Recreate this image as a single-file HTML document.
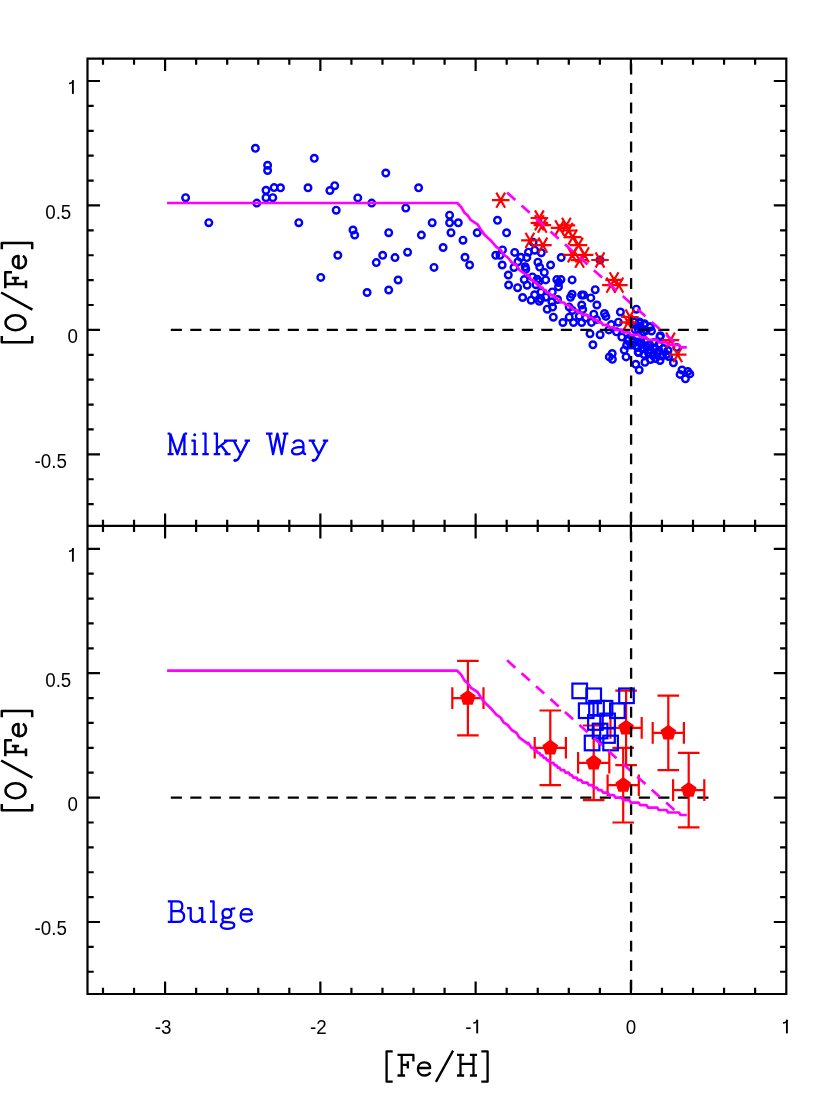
<!DOCTYPE html>
<html><head><meta charset="utf-8"><title>O/Fe vs Fe/H</title>
<style>html,body{margin:0;padding:0;background:#fff}svg{display:block}</style></head>
<body>
<svg width="830" height="1106" viewBox="0 0 830 1106">
<rect width="830" height="1106" fill="#fff"/>
<g fill="none" stroke="#0000ff" stroke-width="2.4">
<circle cx="185.6" cy="197.7" r="3.3"/>
<circle cx="208.8" cy="222.7" r="3.3"/>
<circle cx="255.4" cy="148.3" r="3.3"/>
<circle cx="267.6" cy="165.3" r="3.3"/>
<circle cx="267.6" cy="170.5" r="3.3"/>
<circle cx="266.0" cy="190.3" r="3.3"/>
<circle cx="274.1" cy="187.6" r="3.3"/>
<circle cx="280.5" cy="187.8" r="3.3"/>
<circle cx="266.0" cy="197.7" r="3.3"/>
<circle cx="272.8" cy="197.7" r="3.3"/>
<circle cx="256.8" cy="203.1" r="3.3"/>
<circle cx="308.0" cy="187.8" r="3.3"/>
<circle cx="314.3" cy="158.3" r="3.3"/>
<circle cx="298.8" cy="222.7" r="3.3"/>
<circle cx="329.9" cy="190.5" r="3.3"/>
<circle cx="334.7" cy="185.7" r="3.3"/>
<circle cx="357.8" cy="197.9" r="3.3"/>
<circle cx="371.7" cy="203.1" r="3.3"/>
<circle cx="336.2" cy="210.2" r="3.3"/>
<circle cx="353.0" cy="230.0" r="3.3"/>
<circle cx="354.7" cy="235.1" r="3.3"/>
<circle cx="385.8" cy="173.0" r="3.3"/>
<circle cx="418.6" cy="187.8" r="3.3"/>
<circle cx="405.8" cy="208.1" r="3.3"/>
<circle cx="388.7" cy="232.7" r="3.3"/>
<circle cx="432.2" cy="222.7" r="3.3"/>
<circle cx="421.4" cy="235.1" r="3.3"/>
<circle cx="449.6" cy="215.2" r="3.3"/>
<circle cx="449.6" cy="222.8" r="3.3"/>
<circle cx="458.3" cy="222.8" r="3.3"/>
<circle cx="451.0" cy="232.7" r="3.3"/>
<circle cx="443.1" cy="247.5" r="3.3"/>
<circle cx="407.6" cy="252.2" r="3.3"/>
<circle cx="463.0" cy="240.2" r="3.3"/>
<circle cx="337.8" cy="255.3" r="3.3"/>
<circle cx="320.8" cy="277.4" r="3.3"/>
<circle cx="367.1" cy="292.5" r="3.3"/>
<circle cx="388.7" cy="290.0" r="3.3"/>
<circle cx="398.1" cy="280.0" r="3.3"/>
<circle cx="376.3" cy="262.6" r="3.3"/>
<circle cx="382.7" cy="255.3" r="3.3"/>
<circle cx="395.0" cy="257.6" r="3.3"/>
<circle cx="434.0" cy="267.4" r="3.3"/>
<circle cx="477.2" cy="232.8" r="3.3"/>
<circle cx="465.0" cy="257.3" r="3.3"/>
<circle cx="469.6" cy="265.0" r="3.3"/>
<circle cx="497.5" cy="220.3" r="3.3"/>
<circle cx="506.6" cy="232.8" r="3.3"/>
<circle cx="502.5" cy="249.9" r="3.3"/>
<circle cx="495.7" cy="255.3" r="3.3"/>
<circle cx="500.0" cy="255.3" r="3.3"/>
<circle cx="502.2" cy="265.0" r="3.3"/>
<circle cx="514.7" cy="252.4" r="3.3"/>
<circle cx="520.8" cy="257.3" r="3.3"/>
<circle cx="518.0" cy="261.7" r="3.3"/>
<circle cx="526.8" cy="257.6" r="3.3"/>
<circle cx="528.4" cy="252.2" r="3.3"/>
<circle cx="534.7" cy="250.2" r="3.3"/>
<circle cx="533.1" cy="242.2" r="3.3"/>
<circle cx="541.3" cy="252.7" r="3.3"/>
<circle cx="537.9" cy="262.2" r="3.3"/>
<circle cx="525.2" cy="266.8" r="3.3"/>
<circle cx="525.8" cy="269.3" r="3.3"/>
<circle cx="514.0" cy="267.5" r="3.3"/>
<circle cx="550.6" cy="265.0" r="3.3"/>
<circle cx="561.2" cy="257.5" r="3.3"/>
<circle cx="539.7" cy="267.1" r="3.3"/>
<circle cx="544.3" cy="272.4" r="3.3"/>
<circle cx="508.3" cy="275.0" r="3.3"/>
<circle cx="508.6" cy="285.0" r="3.3"/>
<circle cx="517.6" cy="287.7" r="3.3"/>
<circle cx="524.2" cy="279.6" r="3.3"/>
<circle cx="527.1" cy="285.2" r="3.3"/>
<circle cx="532.4" cy="276.9" r="3.3"/>
<circle cx="537.2" cy="279.3" r="3.3"/>
<circle cx="539.0" cy="281.6" r="3.3"/>
<circle cx="536.0" cy="284.7" r="3.3"/>
<circle cx="545.7" cy="279.9" r="3.3"/>
<circle cx="556.8" cy="279.6" r="3.3"/>
<circle cx="561.0" cy="279.6" r="3.3"/>
<circle cx="558.7" cy="282.5" r="3.3"/>
<circle cx="558.5" cy="286.8" r="3.3"/>
<circle cx="572.1" cy="279.9" r="3.3"/>
<circle cx="522.6" cy="297.5" r="3.3"/>
<circle cx="534.6" cy="294.8" r="3.3"/>
<circle cx="531.1" cy="300.2" r="3.3"/>
<circle cx="541.0" cy="292.1" r="3.3"/>
<circle cx="539.3" cy="301.3" r="3.3"/>
<circle cx="540.7" cy="298.8" r="3.3"/>
<circle cx="545.8" cy="297.2" r="3.3"/>
<circle cx="552.3" cy="291.9" r="3.3"/>
<circle cx="551.9" cy="301.8" r="3.3"/>
<circle cx="557.6" cy="299.5" r="3.3"/>
<circle cx="547.2" cy="309.2" r="3.3"/>
<circle cx="552.6" cy="307.1" r="3.3"/>
<circle cx="553.3" cy="317.2" r="3.3"/>
<circle cx="572.1" cy="294.3" r="3.3"/>
<circle cx="570.5" cy="297.3" r="3.3"/>
<circle cx="581.7" cy="295.0" r="3.3"/>
<circle cx="583.6" cy="295.0" r="3.3"/>
<circle cx="590.8" cy="297.9" r="3.3"/>
<circle cx="595.2" cy="289.7" r="3.3"/>
<circle cx="581.7" cy="305.0" r="3.3"/>
<circle cx="582.7" cy="309.4" r="3.3"/>
<circle cx="569.2" cy="307.1" r="3.3"/>
<circle cx="572.5" cy="310.4" r="3.3"/>
<circle cx="569.2" cy="317.2" r="3.3"/>
<circle cx="562.9" cy="322.5" r="3.3"/>
<circle cx="573.5" cy="322.5" r="3.3"/>
<circle cx="579.3" cy="316.2" r="3.3"/>
<circle cx="581.7" cy="322.5" r="3.3"/>
<circle cx="585.5" cy="318.1" r="3.3"/>
<circle cx="593.8" cy="314.2" r="3.3"/>
<circle cx="596.9" cy="305.0" r="3.3"/>
<circle cx="591.5" cy="322.4" r="3.3"/>
<circle cx="596.5" cy="319.6" r="3.3"/>
<circle cx="604.5" cy="313.5" r="3.3"/>
<circle cx="605.9" cy="316.4" r="3.3"/>
<circle cx="620.4" cy="312.0" r="3.3"/>
<circle cx="636.3" cy="309.2" r="3.3"/>
<circle cx="618.4" cy="322.2" r="3.3"/>
<circle cx="611.2" cy="324.6" r="3.3"/>
<circle cx="608.8" cy="329.9" r="3.3"/>
<circle cx="600.1" cy="334.7" r="3.3"/>
<circle cx="592.9" cy="344.8" r="3.3"/>
<circle cx="590.0" cy="333.7" r="3.3"/>
<circle cx="616.5" cy="331.8" r="3.3"/>
<circle cx="621.8" cy="337.1" r="3.3"/>
<circle cx="627.6" cy="340.5" r="3.3"/>
<circle cx="626.6" cy="345.3" r="3.3"/>
<circle cx="624.2" cy="350.1" r="3.3"/>
<circle cx="626.1" cy="356.9" r="3.3"/>
<circle cx="612.2" cy="353.5" r="3.3"/>
<circle cx="609.3" cy="356.9" r="3.3"/>
<circle cx="638.7" cy="352.5" r="3.3"/>
<circle cx="640.1" cy="342.4" r="3.3"/>
<circle cx="640.1" cy="323.1" r="3.3"/>
<circle cx="644.0" cy="324.6" r="3.3"/>
<circle cx="649.8" cy="327.0" r="3.3"/>
<circle cx="634.3" cy="322.2" r="3.3"/>
<circle cx="635.3" cy="329.9" r="3.3"/>
<circle cx="660.4" cy="335.7" r="3.3"/>
<circle cx="659.9" cy="336.9" r="3.3"/>
<circle cx="676.7" cy="347.4" r="3.3"/>
<circle cx="668.6" cy="356.6" r="3.3"/>
<circle cx="673.4" cy="362.8" r="3.3"/>
<circle cx="644.9" cy="362.3" r="3.3"/>
<circle cx="635.8" cy="364.3" r="3.3"/>
<circle cx="639.2" cy="370.0" r="3.3"/>
<circle cx="638.2" cy="352.2" r="3.3"/>
<circle cx="682.0" cy="370.0" r="3.3"/>
<circle cx="680.1" cy="374.4" r="3.3"/>
<circle cx="687.8" cy="371.5" r="3.3"/>
<circle cx="689.8" cy="373.9" r="3.3"/>
<circle cx="600.0" cy="260.0" r="3.3"/>
<circle cx="639.6" cy="321.9" r="3.3"/>
<circle cx="644.5" cy="323.8" r="3.3"/>
<circle cx="650.2" cy="326.7" r="3.3"/>
<circle cx="632.9" cy="342.1" r="3.3"/>
<circle cx="641.5" cy="343.0" r="3.3"/>
<circle cx="645.5" cy="341.5" r="3.3"/>
<circle cx="649.5" cy="344.5" r="3.3"/>
<circle cx="654.0" cy="342.5" r="3.3"/>
<circle cx="659.0" cy="344.5" r="3.3"/>
<circle cx="638.0" cy="347.5" r="3.3"/>
<circle cx="642.5" cy="349.0" r="3.3"/>
<circle cx="646.5" cy="347.0" r="3.3"/>
<circle cx="650.5" cy="350.0" r="3.3"/>
<circle cx="655.0" cy="348.0" r="3.3"/>
<circle cx="659.0" cy="350.5" r="3.3"/>
<circle cx="663.5" cy="348.5" r="3.3"/>
<circle cx="668.0" cy="350.5" r="3.3"/>
<circle cx="644.0" cy="354.5" r="3.3"/>
<circle cx="648.5" cy="353.0" r="3.3"/>
<circle cx="653.0" cy="355.5" r="3.3"/>
<circle cx="657.5" cy="353.5" r="3.3"/>
<circle cx="662.0" cy="356.0" r="3.3"/>
<circle cx="666.5" cy="354.5" r="3.3"/>
<circle cx="650.5" cy="359.5" r="3.3"/>
<circle cx="655.5" cy="358.5" r="3.3"/>
<circle cx="660.0" cy="360.5" r="3.3"/>
<circle cx="685.4" cy="378.8" r="3.3"/>
<circle cx="612.4" cy="359.3" r="3.3"/>
<circle cx="637.0" cy="325.5" r="3.3"/>
<circle cx="641.5" cy="328.5" r="3.3"/>
<circle cx="646.0" cy="330.5" r="3.3"/>
<circle cx="651.5" cy="331.0" r="3.3"/>
<circle cx="638.5" cy="330.0" r="3.3"/>
<circle cx="643.5" cy="332.0" r="3.3"/>
<circle cx="628.5" cy="338.5" r="3.3"/>
<circle cx="633.0" cy="340.5" r="3.3"/>
<circle cx="637.5" cy="342.0" r="3.3"/>
<circle cx="636.0" cy="346.0" r="3.3"/>
<circle cx="631.0" cy="345.0" r="3.3"/>
</g>
<path fill="none" stroke="#ff0000" stroke-width="2.2" d="M491.90 200.20L509.50 200.20M496.30 192.58L505.10 207.82M505.10 192.58L496.30 207.82M530.60 218.00L548.20 218.00M535.00 210.38L543.80 225.62M543.80 210.38L535.00 225.62M530.60 222.80L548.20 222.80M535.00 215.18L543.80 230.42M543.80 215.18L535.00 230.42M533.50 225.20L551.10 225.20M537.90 217.58L546.70 232.82M546.70 217.58L537.90 232.82M521.10 240.40L538.70 240.40M525.50 232.78L534.30 248.02M534.30 232.78L525.50 248.02M534.10 245.20L551.70 245.20M538.50 237.58L547.30 252.82M547.30 237.58L538.50 252.82M550.80 227.80L568.40 227.80M555.20 220.18L564.00 235.42M564.00 220.18L555.20 235.42M557.60 225.30L575.20 225.30M562.00 217.68L570.80 232.92M570.80 217.68L562.00 232.92M559.60 230.50L577.20 230.50M564.00 222.88L572.80 238.12M572.80 222.88L564.00 238.12M563.90 237.10L581.50 237.10M568.30 229.48L577.10 244.72M577.10 229.48L568.30 244.72M569.70 245.20L587.30 245.20M574.10 237.58L582.90 252.82M582.90 237.58L574.10 252.82M563.50 254.80L581.10 254.80M567.90 247.18L576.70 262.42M576.70 247.18L567.90 262.42M575.80 254.80L593.40 254.80M580.20 247.18L589.00 262.42M589.00 247.18L580.20 262.42M570.80 260.20L588.40 260.20M575.20 252.58L584.00 267.82M584.00 252.58L575.20 267.82M591.20 260.00L608.80 260.00M595.60 252.38L604.40 267.62M604.40 252.38L595.60 267.62M605.30 279.90L622.90 279.90M609.70 272.28L618.50 287.52M618.50 272.28L609.70 287.52M602.10 285.10L619.70 285.10M606.50 277.48L615.30 292.72M615.30 277.48L606.50 292.72M610.10 285.10L627.70 285.10M614.50 277.48L623.30 292.72M623.30 277.48L614.50 292.72M621.10 317.00L638.70 317.00M625.50 309.38L634.30 324.62M634.30 309.38L625.50 324.62M619.10 322.40L636.70 322.40M623.50 314.78L632.30 330.02M632.30 314.78L623.50 330.02M661.70 340.20L679.30 340.20M666.10 332.58L674.90 347.82M674.90 332.58L666.10 347.82M668.90 354.60L686.50 354.60M673.30 346.98L682.10 362.22M682.10 346.98L673.30 362.22"/>
<g fill="none" stroke="#000" stroke-width="2.3" stroke-dasharray="11.1 8.4">
<path d="M170.8 329.8H709"/>
<path d="M170.8 797.6H709"/>
</g>
<path fill="none" stroke="#ff0000" stroke-width="2.2" d="M467.9 660.8V735.4M457.1 660.8H478.7M457.1 735.4H478.7M452.3 698.1H483.5M452.3 687.3V708.9M483.5 687.3V708.9M550.3 710.5V785.1M539.5 710.5H561.1M539.5 785.1H561.1M534.7 747.8H565.9M534.7 737.0V758.6M565.9 737.0V758.6M593.7 725.5V800.1M582.9 725.5H604.5M582.9 800.1H604.5M578.1 762.8H609.3M578.1 752.0V773.6M609.3 752.0V773.6M626.1 690.6V765.2M615.3 690.6H636.9M615.3 765.2H636.9M610.5 727.9H641.7M610.5 717.1V738.7M641.7 717.1V738.7M623.2 747.9V822.5M612.4 747.9H634.0M612.4 822.5H634.0M607.6 785.2H638.8M607.6 774.4V796.0M638.8 774.4V796.0M668.3 695.6V770.2M657.5 695.6H679.1M657.5 770.2H679.1M652.7 732.9H683.9M652.7 722.1V743.7M683.9 722.1V743.7M688.7 752.8V827.4M677.9 752.8H699.5M677.9 827.4H699.5M673.1 790.1H704.3M673.1 779.3V800.9M704.3 779.3V800.9"/>
<polygon fill="#ff0000" points="467.90,689.90 475.70,695.57 472.72,704.73 463.08,704.73 460.10,695.57"/>
<polygon fill="#ff0000" points="550.30,739.60 558.10,745.27 555.12,754.43 545.48,754.43 542.50,745.27"/>
<polygon fill="#ff0000" points="593.70,754.60 601.50,760.27 598.52,769.43 588.88,769.43 585.90,760.27"/>
<polygon fill="#ff0000" points="626.10,719.70 633.90,725.37 630.92,734.53 621.28,734.53 618.30,725.37"/>
<polygon fill="#ff0000" points="623.20,777.00 631.00,782.67 628.02,791.83 618.38,791.83 615.40,782.67"/>
<polygon fill="#ff0000" points="668.30,724.70 676.10,730.37 673.12,739.53 663.48,739.53 660.50,730.37"/>
<polygon fill="#ff0000" points="688.70,781.90 696.50,787.57 693.52,796.73 683.88,796.73 680.90,787.57"/>
<g fill="none" stroke="#0000ff" stroke-width="2.2">
<rect x="572.4" y="683.6" width="14.6" height="14.6"/>
<rect x="586.4" y="688.5" width="14.6" height="14.6"/>
<rect x="619.2" y="688.5" width="14.6" height="14.6"/>
<rect x="578.9" y="703.4" width="14.6" height="14.6"/>
<rect x="589.2" y="700.9" width="14.6" height="14.6"/>
<rect x="597.7" y="700.9" width="14.6" height="14.6"/>
<rect x="610.1" y="703.4" width="14.6" height="14.6"/>
<rect x="600.3" y="713.6" width="14.6" height="14.6"/>
<rect x="588.1" y="715.2" width="14.6" height="14.6"/>
<rect x="592.8" y="723.7" width="14.6" height="14.6"/>
<rect x="600.2" y="728.2" width="14.6" height="14.6"/>
<rect x="584.8" y="735.7" width="14.6" height="14.6"/>
<rect x="603.3" y="735.7" width="14.6" height="14.6"/>
</g>
<polyline fill="none" stroke="#ff00ff" stroke-width="2.7" stroke-linejoin="round" points="167.1,203.0 457.2,203.0 461.1,206.9 464.5,212.7 467.8,215.6 470.7,219.9 477.5,224.3 480.8,229.6 484.2,234.4 490.5,240.2 496.3,246.9 500.6,249.8 503.5,254.6 507.8,257.5 511.7,262.3 516.5,265.2 519.4,270.0 528.1,276.1 528.4,275.2 530.0,277.7 531.5,280.1 533.1,280.1 534.6,282.6 536.2,282.6 537.7,285.1 539.3,285.1 540.8,287.6 542.4,287.6 543.9,290.1 545.5,290.1 547.1,292.6 548.6,292.6 550.2,295.1 551.7,295.1 553.3,295.1 554.8,297.6 556.4,297.6 557.9,300.0 559.5,300.0 561.0,302.5 562.6,302.5 564.1,302.5 565.7,305.0 567.2,305.0 568.8,305.0 570.3,307.5 571.9,307.5 573.5,310.0 575.0,310.0 576.6,310.0 578.1,312.5 579.7,312.5 581.2,312.5 582.8,315.0 584.3,315.0 585.9,315.0 587.4,315.0 589.0,317.5 590.5,317.5 592.1,317.5 593.6,319.9 595.2,319.9 596.7,319.9 598.3,322.4 599.8,322.4 601.4,322.4 603.0,324.9 604.5,324.9 606.1,324.9 607.6,324.9 609.2,327.4 610.7,327.4 612.3,327.4 613.8,327.4 615.4,329.9 616.9,329.9 618.5,329.9 620.0,329.9 621.6,329.9 623.1,332.4 624.7,332.4 626.2,332.4 627.8,332.4 629.3,332.4 630.9,334.9 632.5,334.9 634.0,334.9 635.6,334.9 637.1,334.9 638.7,334.9 640.2,337.4 641.8,337.4 643.3,337.4 644.9,337.4 646.4,337.4 648.0,339.9 649.5,339.9 651.1,339.9 652.6,339.9 654.2,339.9 655.7,339.9 657.3,339.9 658.8,342.3 660.4,342.3 662.0,342.3 663.5,342.3 665.1,342.3 666.6,342.3 668.2,344.8 669.7,344.8 671.3,344.8 672.8,344.8 674.4,344.8 675.9,344.8 677.5,344.8 679.0,344.8 680.6,347.3 682.1,347.3 683.7,347.3 685.2,347.3 686.8,347.3 686.8,347.3"/>
<path fill="none" stroke="#ff00ff" stroke-width="2.7" stroke-dasharray="11 8.4" d="M507.1 192.6L675.7 343.4"/>
<polyline fill="none" stroke="#ff00ff" stroke-width="2.7" stroke-linejoin="round" points="167.1,670.7 457.2,670.7 461.1,674.6 464.5,680.4 467.8,683.3 470.7,687.6 477.5,692.0 480.8,697.3 484.2,702.1 490.5,707.9 496.3,714.6 500.6,717.5 503.5,722.3 507.8,725.2 511.7,730.0 516.5,732.9 519.4,737.7 528.1,743.8 528.4,742.9 530.0,745.4 531.5,747.8 533.1,747.8 534.6,750.3 536.2,750.3 537.7,752.8 539.3,752.8 540.8,755.3 542.4,755.3 543.9,757.8 545.5,757.8 547.1,760.3 548.6,760.3 550.2,762.8 551.7,762.8 553.3,762.8 554.8,765.3 556.4,765.3 557.9,767.7 559.5,767.7 561.0,770.2 562.6,770.2 564.1,770.2 565.7,772.7 567.2,772.7 568.8,772.7 570.3,775.2 571.9,775.2 573.5,777.7 575.0,777.7 576.6,777.7 578.1,780.2 579.7,780.2 581.2,780.2 582.8,782.7 584.3,782.7 585.9,782.7 587.4,782.7 589.0,785.2 590.5,785.2 592.1,785.2 593.6,787.6 595.2,787.6 596.7,787.6 598.3,790.1 599.8,790.1 601.4,790.1 603.0,792.6 604.5,792.6 606.1,792.6 607.6,792.6 609.2,795.1 610.7,795.1 612.3,795.1 613.8,795.1 615.4,797.6 616.9,797.6 618.5,797.6 620.0,797.6 621.6,797.6 623.1,800.1 624.7,800.1 626.2,800.1 627.8,800.1 629.3,800.1 630.9,802.6 632.5,802.6 634.0,802.6 635.6,802.6 637.1,802.6 638.7,802.6 640.2,805.1 641.8,805.1 643.3,805.1 644.9,805.1 646.4,805.1 648.0,807.6 649.5,807.6 651.1,807.6 652.6,807.6 654.2,807.6 655.7,807.6 657.3,807.6 658.8,810.0 660.4,810.0 662.0,810.0 663.5,810.0 665.1,810.0 666.6,810.0 668.2,812.5 669.7,812.5 671.3,812.5 672.8,812.5 674.4,812.5 675.9,812.5 677.5,812.5 679.0,812.5 680.6,815.0 682.1,815.0 683.7,815.0 685.2,815.0 686.8,815.0 686.8,815.0"/>
<path fill="none" stroke="#ff00ff" stroke-width="2.7" stroke-dasharray="11 8.4" d="M507.1 660.3L675.7 811.1"/>
<path fill="none" stroke="#000" stroke-width="2.3" stroke-dasharray="10.9 8.59" d="M631.1 63.6V994"/>
<path fill="none" stroke="#000" stroke-width="2.2" d="M87.5 58.6H786.3V994.0H87.5ZM87.5 525.9H786.3M102.98 58.6v6.2M102.98 519.7v12.4M102.98 994.0v-6.2M134.04 58.6v6.2M134.04 519.7v12.4M134.04 994.0v-6.2M165.09 58.6v12.5M165.09 513.4v25.0M165.09 994.0v-12.5M196.14 58.6v6.2M196.14 519.7v12.4M196.14 994.0v-6.2M227.20 58.6v6.2M227.20 519.7v12.4M227.20 994.0v-6.2M258.25 58.6v6.2M258.25 519.7v12.4M258.25 994.0v-6.2M289.31 58.6v6.2M289.31 519.7v12.4M289.31 994.0v-6.2M320.36 58.6v12.5M320.36 513.4v25.0M320.36 994.0v-12.5M351.41 58.6v6.2M351.41 519.7v12.4M351.41 994.0v-6.2M382.47 58.6v6.2M382.47 519.7v12.4M382.47 994.0v-6.2M413.52 58.6v6.2M413.52 519.7v12.4M413.52 994.0v-6.2M444.58 58.6v6.2M444.58 519.7v12.4M444.58 994.0v-6.2M475.63 58.6v12.5M475.63 513.4v25.0M475.63 994.0v-12.5M506.68 58.6v6.2M506.68 519.7v12.4M506.68 994.0v-6.2M537.74 58.6v6.2M537.74 519.7v12.4M537.74 994.0v-6.2M568.79 58.6v6.2M568.79 519.7v12.4M568.79 994.0v-6.2M599.85 58.6v6.2M599.85 519.7v12.4M599.85 994.0v-6.2M630.90 58.6v12.5M630.90 513.4v25.0M630.90 994.0v-12.5M661.95 58.6v6.2M661.95 519.7v12.4M661.95 994.0v-6.2M693.01 58.6v6.2M693.01 519.7v12.4M693.01 994.0v-6.2M724.06 58.6v6.2M724.06 519.7v12.4M724.06 994.0v-6.2M755.12 58.6v6.2M755.12 519.7v12.4M755.12 994.0v-6.2M87.5 504.13h6.2M786.3 504.13h-6.2M87.5 479.24h6.2M786.3 479.24h-6.2M87.5 454.35h12.5M786.3 454.35h-12.5M87.5 429.46h6.2M786.3 429.46h-6.2M87.5 404.57h6.2M786.3 404.57h-6.2M87.5 379.68h6.2M786.3 379.68h-6.2M87.5 354.79h6.2M786.3 354.79h-6.2M87.5 329.90h12.5M786.3 329.90h-12.5M87.5 305.01h6.2M786.3 305.01h-6.2M87.5 280.12h6.2M786.3 280.12h-6.2M87.5 255.23h6.2M786.3 255.23h-6.2M87.5 230.34h6.2M786.3 230.34h-6.2M87.5 205.45h12.5M786.3 205.45h-12.5M87.5 180.56h6.2M786.3 180.56h-6.2M87.5 155.67h6.2M786.3 155.67h-6.2M87.5 130.78h6.2M786.3 130.78h-6.2M87.5 105.89h6.2M786.3 105.89h-6.2M87.5 81.00h12.5M786.3 81.00h-12.5M87.5 971.76h6.2M786.3 971.76h-6.2M87.5 946.88h6.2M786.3 946.88h-6.2M87.5 922.00h12.5M786.3 922.00h-12.5M87.5 897.12h6.2M786.3 897.12h-6.2M87.5 872.24h6.2M786.3 872.24h-6.2M87.5 847.36h6.2M786.3 847.36h-6.2M87.5 822.48h6.2M786.3 822.48h-6.2M87.5 797.60h12.5M786.3 797.60h-12.5M87.5 772.72h6.2M786.3 772.72h-6.2M87.5 747.84h6.2M786.3 747.84h-6.2M87.5 722.96h6.2M786.3 722.96h-6.2M87.5 698.08h6.2M786.3 698.08h-6.2M87.5 673.20h12.5M786.3 673.20h-12.5M87.5 648.32h6.2M786.3 648.32h-6.2M87.5 623.44h6.2M786.3 623.44h-6.2M87.5 598.56h6.2M786.3 598.56h-6.2M87.5 573.68h6.2M786.3 573.68h-6.2M87.5 548.80h12.5M786.3 548.80h-12.5"/>
<g style="font-family:&quot;Liberation Sans&quot;,sans-serif" font-size="18.8" fill="#000" opacity="0.999">
<text transform="translate(45.2,218.8) scale(1,1.10)">0.5</text>
<text transform="translate(67.4,343.2) scale(1,1.10)">0</text>
<text transform="translate(34.6,467.7) scale(1,1.10)">-0.5</text>
<path fill="none" stroke="#000" stroke-width="1.9" d="M72.9 80.2V93.9"/><path fill="none" stroke="#000" stroke-width="1.5" d="M73.3 80.4C72.6 82.3 71.2 83.4 69.0 83.5"/>
<text transform="translate(45.2,686.5) scale(1,1.10)">0.5</text>
<text transform="translate(67.4,810.9) scale(1,1.10)">0</text>
<text transform="translate(34.6,935.3) scale(1,1.10)">-0.5</text>
<path fill="none" stroke="#000" stroke-width="1.9" d="M72.9 548.0V561.7"/><path fill="none" stroke="#000" stroke-width="1.5" d="M73.3 548.2C72.6 550.1 71.2 551.2 69.0 551.3"/>
<text transform="translate(163.1,1033.5) scale(1,1.10)" text-anchor="middle">-3</text>
<text transform="translate(318.4,1033.5) scale(1,1.10)" text-anchor="middle">-2</text>
<text transform="translate(630.9,1033.5) scale(1,1.10)" text-anchor="middle">0</text>
<text transform="translate(465.3,1033.5) scale(1,1.10)">-</text>
<path fill="none" stroke="#000" stroke-width="1.9" d="M477.2 1019.7V1033.4"/><path fill="none" stroke="#000" stroke-width="1.5" d="M477.6 1019.9C476.9 1021.8 475.5 1022.9 473.3 1023.0"/>
<path fill="none" stroke="#000" stroke-width="1.9" d="M786.9 1019.7V1033.4"/><path fill="none" stroke="#000" stroke-width="1.5" d="M787.3 1019.9C786.6 1021.8 785.2 1022.9 783.0 1023.0"/>
</g>
<g fill="none" stroke="#000" stroke-width="2.3" stroke-linecap="butt" stroke-linejoin="round">
<path transform="translate(0,1075.5)" d="M392.7 -24.2H386.6V6.2H392.7M397.5 -20.7H413.4V-14M401.7 -20.7V0M397.5 0H405.1M401.7 -10.6H407.8M407.8 -14.2V-6.9M418.2 -7.5H430.2C430.2 -11.1 427.9 -13.2 424.3 -13.2C420.4 -13.2 417.9 -10.3 417.9 -6.6C417.9 -2.7 420.6 0 424.5 0C427.2 0 429.2 -1.1 430.4 -3.1M435.9 6.4L453.1 -24.9M457 -20.6H464.1M469.9 -20.6H477M457 0H464.1M469.9 0H477M460.5 -20.6V0M473.5 -20.6V0M460.5 -11.6H473.5M481.3 -24.2H487.6V6.2H481.3"/>
<path stroke-width="2.5" transform="translate(26,342.2) rotate(-90)" d="M6.1 -24.2H0V6.2H6.1M12 -10.5C12 -16.02 15.36 -20.5 19.5 -20.5C23.64 -20.5 27 -16.02 27 -10.5C27 -4.98 23.64 -0.5 19.5 -0.5C15.36 -0.5 12 -4.98 12 -10.5M32.5 6.4L49.7 -24.9M54 -20.7H69.9V-14M58.2 -20.7V0M54 0H61.6M58.2 -10.6H64.3M64.3 -14.2V-6.9M74.3 -7.5H86.3C86.3 -11.1 84 -13.2 80.4 -13.2C76.5 -13.2 74 -10.3 74 -6.6C74 -2.7 76.7 0 80.6 0C83.3 0 85.3 -1.1 86.5 -3.1M92.9 -24.2H99.2V6.2H92.9"/>
<path stroke-width="2.5" transform="translate(26,810.2) rotate(-90)" d="M6.1 -24.2H0V6.2H6.1M12 -10.5C12 -16.02 15.36 -20.5 19.5 -20.5C23.64 -20.5 27 -16.02 27 -10.5C27 -4.98 23.64 -0.5 19.5 -0.5C15.36 -0.5 12 -4.98 12 -10.5M32.5 6.4L49.7 -24.9M54 -20.7H69.9V-14M58.2 -20.7V0M54 0H61.6M58.2 -10.6H64.3M64.3 -14.2V-6.9M74.3 -7.5H86.3C86.3 -11.1 84 -13.2 80.4 -13.2C76.5 -13.2 74 -10.3 74 -6.6C74 -2.7 76.7 0 80.6 0C83.3 0 85.3 -1.1 86.5 -3.1M92.9 -24.2H99.2V6.2H92.9"/>
</g>
<g fill="none" stroke="#0000ff" stroke-width="2.3" stroke-linecap="butt" stroke-linejoin="round">
<path d="M170.3 433.6V454.2M184.4 433.6V454.2M170.3 433.6L177.35 454.2L184.4 433.6M167.6 433.6H170.3M184.4 433.6H187.1M167.6 454.2H173.6M181.1 454.2H187.1M191.4 440.6H194.7V454.2M191.4 454.2H198M202.3 433.6H205.5V454.2M202.3 454.2H208.8M213.7 433.6H216.9V454.2M213.7 454.2H220.2M216.9 448.7L227.2 440.6M224 440.6H230.5M221.3 445.5L227.8 454.2M224.5 454.2H230.5M230.5 440.6H237M244.6 440.6H250M233.7 440.6L240.8 454.2M247.8 440.6L238.6 458.4Q237.2 461 234.9 460.4M266 433.6H272.5M282.8 433.6H288.3M269.3 433.6L273.1 454.2L277.4 433.6L281.7 454.2L285.5 433.6M293.1 443.3C294.5 441.3 296 440.4 298 440.4C301.5 440.4 303.4 442 303.4 445V451.5C303.4 453.4 304.3 454.2 306.1 454.2M303.4 446.8C299 446.8 292 447 292 450.8C292 453 293.8 454.4 296.3 454.4C299.5 454.4 303.4 452.5 303.4 450M308.7 440.6H315.2M322.8 440.6H328.2M311.9 440.6L319 454.2M326 440.6L316.8 458.4Q315.4 461 313.1 460.4"/>
<g fill="#0000ff" stroke="none"><circle cx="194.7" cy="434.7" r="1.5"/><circle cx="235.0" cy="460.3" r="1.6"/><circle cx="313.2" cy="460.3" r="1.6"/></g>
<path d="M167.8 901.4H178.1C181 901.4 182.3 903.5 182.3 906.3C182.3 909 180.8 911.1 178.1 911.1H171.4M178.1 911.1C182 911.1 184.1 913.3 184.1 916.5C184.1 919.7 182 921.9 178.1 921.9H167.8M171.4 901.4V921.9M187.1 908.1H190.7V917.5C190.7 920.3 192.3 921.9 195 921.9C198 921.9 200.5 920.5 202.2 918M198.6 908.1H202.2V921.9H205.8M210 901.4H213.6V921.9M210 921.9H217.2M222.5 913.5C222.5 910.8 224.3 909.1 226.9 909.1C229.5 909.1 231.3 910.8 231.3 913.5C231.3 916.2 229.5 917.9 226.9 917.9C224.3 917.9 222.5 916.2 222.5 913.5ZM230.3 910.3C231.4 908.9 233 908.2 235.3 908.4M224.2 917.2C222.2 918.4 221.6 920.6 223.6 921.6C225.4 922.4 229.8 921.9 232.2 922.6C235 923.5 235 926.9 232.2 928C229.3 929 225.2 929 222.7 928C220.2 926.9 220.3 924 223.2 922.5M240.88 914.3H251.92C251.92 910.84 249.8 908.83 246.49 908.83C242.9 908.83 240.6 911.61 240.6 915.16C240.6 918.91 243.08 921.5 246.67 921.5C249.16 921.5 251 920.44 252.1 918.52"/>
</g>
</svg>
</body></html>
